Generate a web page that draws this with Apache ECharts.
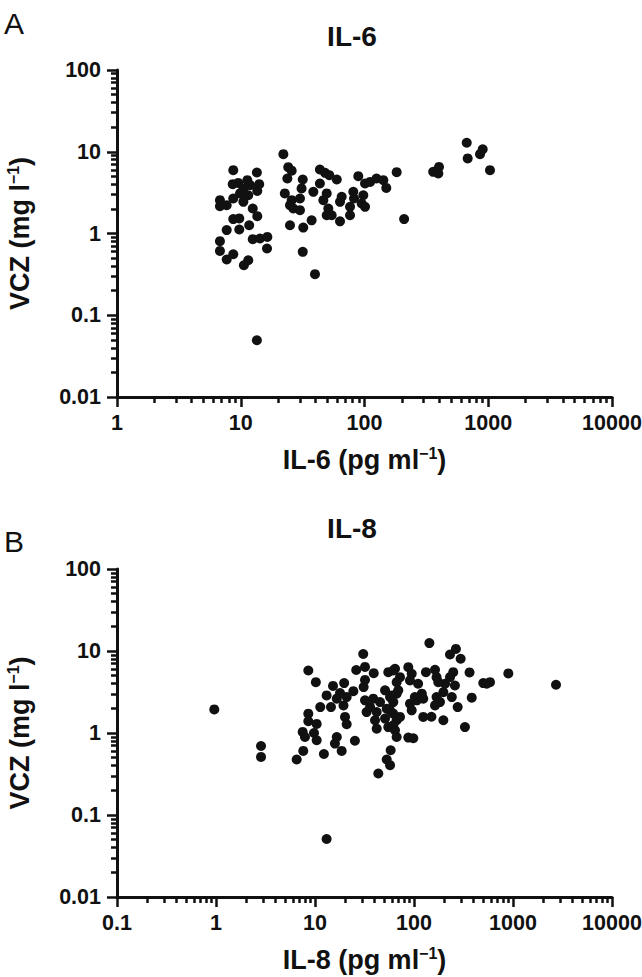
<!DOCTYPE html>
<html><head><meta charset="utf-8">
<script src="https://cdn.jsdelivr.net/npm/echarts@6/dist/echarts.min.js"></script>
<style>html,body{margin:0;padding:0;background:#fff}#c{width:642px;height:977px}</style>
</head><body><div id="c"></div>
<script>
// Panel A: IL-6 (pg/ml) vs VCZ (mg/l)
const il6X = [22.1,8.70,13.5,24.2,25.8,23.8,31.7,8.61,9.55,11.3,11.9,14.1,13.6,10.5,9.86,11.5,8.70,10.5,6.79,6.79,7.70,12.5,13.6,8.70,9.73,11.7,7.70,9.73,6.79,12.5,14.3,16.4,6.79,7.70,8.70,10.6,11.5,16.3,31.7,39.8,13.5,25.0,32.0,37.4,43.6,48.0,52.0,59.7,43.6,38.6,22.7,25.8,30.1,26.6,30.1,31.0,49.5,46.5,51.0,49.5,54.3,65.4,63.4,76.4,76.4,81.2,82.3,94.9,101,97.8,89.1,101,111,125,142,150,182,209,63.4,670,902,858,682,1033,359,400,395,25.0];
const il6Vcz = [9.35,5.95,5.58,6.48,5.87,4.71,4.58,4.01,4.16,4.49,3.90,4.01,3.32,3.56,3.09,2.94,2.68,2.44,2.56,2.16,2.22,2.02,1.63,1.50,1.53,1.26,1.10,1.12,0.805,0.852,0.869,0.909,0.612,0.481,0.558,0.409,0.471,0.655,0.596,0.318,0.0494,1.26,1.18,1.45,6.07,5.52,5.17,4.58,4.09,3.23,3.09,2.56,2.68,2.02,1.93,3.56,3.09,2.56,2.02,1.67,1.67,2.81,2.44,2.12,1.67,3.23,2.68,2.33,2.12,2.94,5.03,4.09,4.28,4.71,4.49,3.61,5.63,1.50,1.41,12.9,10.7,9.35,8.28,5.95,5.68,6.53,5.42,2.22];
// Panel B: IL-8 (pg/ml) vs VCZ (mg/l)
const il8X = [0.961,2.85,2.85,8.56,10.2,30.7,26.1,32.0,39.2,32.0,31.0,15.2,19.7,13.1,16.6,17.9,24.4,11.3,14.5,19.4,20.9,8.56,8.56,10.4,7.51,7.92,9.77,10.4,7.61,6.53,12.3,16.6,15.9,18.6,25.3,20.1,20.9,43.6,55.0,64.3,32.0,38.8,45.4,51.0,57.3,66.8,33.2,42.0,53.0,61.8,40.4,51.0,66.8,36.0,42.0,55.0,64.3,66.8,143,265,231,296,897,501,586,364,383,327,198,276,241,259,249,231,206,198,169,163,183,169,176,132,163,124,150,120,110,102,107,91.1,94.8,87.6,94.8,91.1,72.2,66.8,69.4,61.8,59.5,61.8,57.3,72.2,61.8,87.6,98.4,124,2719,58.1,53.0,57.3,13.1,542];
const il8Vcz = [1.94,0.695,0.511,5.79,4.17,9.2,5.87,6.39,5.37,4.44,3.63,3.75,4.06,2.87,2.62,3.07,3.24,2.07,2.07,2.17,2.74,1.72,1.39,1.29,1.03,0.894,1.0,0.815,0.604,0.475,0.555,0.894,0.743,0.604,0.804,1.57,1.28,0.321,5.52,6.07,2.5,2.62,2.38,3.31,2.74,3.02,1.80,1.80,1.98,1.72,1.43,1.50,1.43,2.07,1.13,1.18,1.08,0.894,12.5,10.6,9.06,8.04,5.33,4.06,4.17,5.48,2.70,1.18,1.43,2.07,2.74,3.80,5.52,4.80,3.99,3.15,2.74,2.17,2.38,4.80,4.17,5.52,5.90,1.57,1.58,3.02,3.99,2.74,2.5,2.28,1.89,6.35,5.28,4.38,4.80,4.17,3.31,5.79,2.87,2.38,1.89,1.57,1.24,0.879,0.862,2.62,3.88,0.616,0.475,0.405,0.051,3.99];
// Tick labels
const vczTicks = [0.01,0.1,1,10,100];
const il6Ticks = [1,10,100,1000,10000];
const il8Ticks = [0.1,1,10,100,1000,10000];

const FAM = '"Liberation Sans",Arial,Helvetica,sans-serif';
const INK = '#111111';
function minors(ticks){const o=[];for(let i=0;i<ticks.length-1;i++){for(let m=2;m<=9;m++)o.push(+(m*ticks[i]).toPrecision(6));}return o;}
function fmt(v){return String(+(+v).toPrecision(6));}
const supRich = {sup:{fontSize:16,fontWeight:'bold',fontFamily:FAM,color:INK,verticalAlign:'top',lineHeight:30}};
const nameStyle = {fontFamily:FAM,fontWeight:'bold',fontSize:27,color:INK,lineHeight:30,rich:supRich};
function mainAxis(g,ticks,name,gap){
  return {type:'log',logBase:10,gridIndex:g,min:ticks[0],max:ticks[ticks.length-1],
    axisLine:{show:true,onZero:false,lineStyle:{color:INK,width:3}},
    axisTick:{show:true,inside:false,length:10,lineStyle:{color:INK,width:2.5},customValues:ticks},
    axisLabel:{customValues:ticks,formatter:fmt,fontFamily:FAM,fontWeight:'bold',fontSize:21.5,color:INK,margin:0},
    splitLine:{show:false},minorTick:{show:false},
    name:name,nameLocation:'middle',nameGap:gap,nameTextStyle:nameStyle};
}
function minorAxis(g,ticks){
  return {type:'log',logBase:10,gridIndex:g,min:ticks[0],max:ticks[ticks.length-1],
    axisLine:{show:false,onZero:false},
    axisTick:{show:true,inside:false,length:6,lineStyle:{color:INK,width:2.5},customValues:minors(ticks)},
    axisLabel:{show:false},splitLine:{show:false}};
}
const xA6=mainAxis(0,il6Ticks,'IL-6 (pg ml{sup|−1})',48); xA6.position='bottom'; xA6.axisLabel.margin=15;
const xA6m=minorAxis(0,il6Ticks); xA6m.position='bottom';
const xA8=mainAxis(1,il8Ticks,'IL-8 (pg ml{sup|−1})',48); xA8.position='bottom'; xA8.axisLabel.margin=15;
const xA8m=minorAxis(1,il8Ticks); xA8m.position='bottom';
const yA6=mainAxis(0,vczTicks,'VCZ (mg l{sup|−1})',82); yA6.position='left'; yA6.axisLabel.margin=16; yA6.nameRotate=90;
const yA6m=minorAxis(0,vczTicks); yA6m.position='left';
const yA8=mainAxis(1,vczTicks,'VCZ (mg l{sup|−1})',82); yA8.position='left'; yA8.axisLabel.margin=16; yA8.nameRotate=90;
const yA8m=minorAxis(1,vczTicks); yA8m.position='left';

const chart = echarts.init(document.getElementById('c'),null,{renderer:'svg'});
chart.setOption({
  animation:false,
  backgroundColor:'#fff',
  grid:[{left:117,top:70,width:495,height:327,outerBoundsMode:'none',containLabel:false},
        {left:117,top:569,width:495,height:328,outerBoundsMode:'none',containLabel:false}],
  xAxis:[xA6,xA6m,xA8,xA8m],
  yAxis:[yA6,yA6m,yA8,yA8m],
  graphic:[
    {type:'text',x:4,y:8,style:{text:'A',font:'normal 30px '+FAM,fill:INK}},
    {type:'text',x:352,y:22,style:{text:'IL-6',font:'bold 28px '+FAM,fill:INK,align:'center'}},
    {type:'text',x:4,y:526,style:{text:'B',font:'normal 30px '+FAM,fill:INK}},
    {type:'text',x:352,y:514,style:{text:'IL-8',font:'bold 28px '+FAM,fill:INK,align:'center'}}
  ],
  series:[
    {type:'scatter',xAxisIndex:0,yAxisIndex:0,symbol:'circle',symbolSize:10,itemStyle:{color:INK,opacity:1},data:il6X.map((v,i)=>[v,il6Vcz[i]])},
    {type:'scatter',xAxisIndex:2,yAxisIndex:2,symbol:'circle',symbolSize:10,itemStyle:{color:INK,opacity:1},data:il8X.map((v,i)=>[v,il8Vcz[i]])}
  ]
});
</script></body></html>
